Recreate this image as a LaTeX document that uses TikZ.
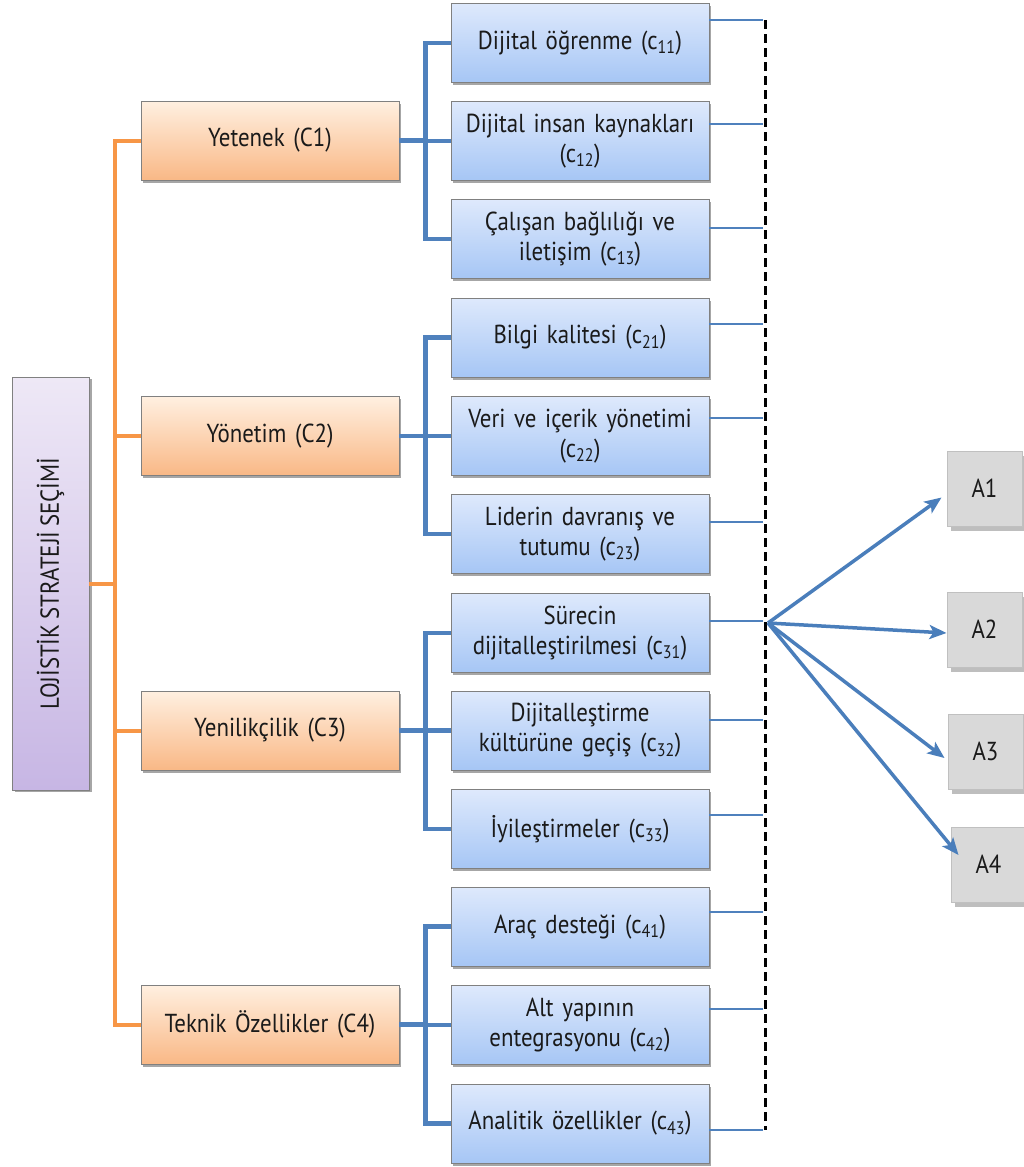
\documentclass[tikz,border=0pt]{standalone}
\usepackage{fontspec}
\setmainfont{PT Sans}[FakeStretch=0.88, WordSpace=0.8]
\usetikzlibrary{shadows,arrows.meta,calc}
\definecolor{txt}{HTML}{1A1A1A}
\definecolor{orln}{HTML}{F79646}
\definecolor{blln}{HTML}{4F81BD}
\definecolor{arln}{HTML}{4A7EBB}
\definecolor{bdr}{HTML}{808080}
\tikzset{
  lbl/.style={font=\fontsize{26}{30}\selectfont, text=txt, align=center},
  boxbase/.style={lbl, draw=bdr, line width=0.8pt, inner sep=0pt,
     minimum width=258pt, minimum height=79pt, text width=250pt,
     drop shadow={shadow xshift=1.5pt, shadow yshift=-2.5pt, fill=black, opacity=0.35}},
  obox/.style={boxbase, top color=orange!12!white, bottom color={rgb,255:red,249;green,184;blue,134}},
  bbox/.style={boxbase, top color={rgb,255:red,222;green,233;blue,252}, bottom color={rgb,255:red,166;green,198;blue,245}},
  pbox/.style={lbl, draw=bdr, line width=0.8pt, inner sep=0pt,
     minimum width=77pt, minimum height=413pt,
     bottom color={rgb,255:red,199;green,182;blue,228}, top color={rgb,255:red,238;green,232;blue,246},
     drop shadow={shadow xshift=2.5pt, shadow yshift=-2pt, fill=black, opacity=0.35}},
  abox/.style={lbl, draw={rgb,255:red,192;green,192;blue,192}, line width=1pt, fill={rgb,255:red,217;green,217;blue,217},
     minimum width=75pt, minimum height=75pt, inner sep=0pt,
     drop shadow={shadow xshift=4pt, shadow yshift=-5pt, fill={rgb,255:red,190;green,190;blue,190}, opacity=1}},
  orl/.style={draw=orln, line width=4pt},
  bll/.style={draw=blln, line width=4.5pt},
  thn/.style={draw=blln, line width=1.5pt},
  dsh/.style={draw=black, line width=3pt, dash pattern=on 9pt off 5pt},
  arr/.style={draw=arln, line width=3.5pt, -{Stealth[length=17pt, width=14pt, inset=4pt]}}
}
\begin{document}
\begin{tikzpicture}[x=1pt, y=-1pt]
\useasboundingbox (0,0) rectangle (1024,1167);

% purple root
\node[pbox] (p) at (50.5,583.5) {\rotatebox{90}{LOJİSTİK STRATEJİ SEÇİMİ}};

% orange criteria
\node[obox] (o1) at (270,140.5) {Yetenek (C1)};
\node[obox] (o2) at (270,436) {Yönetim (C2)};
\node[obox] (o3) at (270,730.5) {Yenilikçilik (C3)};
\node[obox] (o4) at (270,1024.5) {Teknik Özellikler (C4)};

% blue sub-criteria
\node[bbox] (b11) at (580,43) {Dijital öğrenme (c\textsubscript{11})};
\node[bbox] (b12) at (580,141) {Dijital insan kaynakları\\(c\textsubscript{12})};
\node[bbox] (b13) at (580,239) {Çalışan bağlılığı ve\\iletişim (c\textsubscript{13})};
\node[bbox] (b21) at (580,337.5) {Bilgi kalitesi (c\textsubscript{21})};
\node[bbox] (b22) at (580,436) {Veri ve içerik yönetimi\\(c\textsubscript{22})};
\node[bbox] (b23) at (580,534) {Liderin davranış ve\\tutumu (c\textsubscript{23})};
\node[bbox] (b31) at (580,633) {Sürecin\\dijitalleştirilmesi (c\textsubscript{31})};
\node[bbox] (b32) at (580,730.5) {Dijitalleştirme\\kültürüne geçiş (c\textsubscript{32})};
\node[bbox] (b33) at (580,829) {İyileştirmeler (c\textsubscript{33})};
\node[bbox] (b41) at (580,926.5) {Araç desteği (c\textsubscript{41})};
\node[bbox] (b42) at (580,1025) {Alt yapının\\entegrasyonu (c\textsubscript{42})};
\node[bbox] (b43) at (580,1123.5) {Analitik özellikler (c\textsubscript{43})};

% alternatives
\node[abox] (A1) at (984.5,488.5) {A1};
\node[abox] (A2) at (984.5,629.5) {A2};
\node[abox] (A3) at (985.5,751.5) {A3};
\node[abox] (A4) at (988.5,864.5) {A4};

% orange tree
\draw[orl] (o1.west) -- ++(-26,0) |- (o4.west);
\draw[orl] (o2.west) -- ++(-26,0);
\draw[orl] (o3.west) -- ++(-26,0);
\draw[orl] (p.east) -- ++(26,0);

% blue brackets
\foreach \g in {1,2,3,4}{
  \draw[bll] (o\g.east) -- ++(27,0);
  \draw[bll] (b\g1.west) -- ++(-25,0) |- (b\g3.west);
  \draw[bll] (b\g2.west) -- ++(-25,0);
}

% dashed collector
\coordinate (dtop) at (765,20);
\coordinate (dbot) at (765,1130);
\draw[dsh] (dtop) -- (dbot);

% thin links
\foreach \n/\yy in {b11/20,b12/124,b13/228,b21/324,b22/418,b23/522,b31/621,b32/720,b33/815,b41/912,b42/1009,b43/1130}{
  \coordinate (t\n) at (763,\yy);
  \draw[thn] (\n.east |- t\n) -- (t\n);
}

% arrows
\coordinate (hub) at (768,623);
\draw[arr] (hub) -- ($(A1.west)+(-5,9)$);
\draw[arr] (hub) -- ($(A2.west)+(0,3.5)$);
\draw[arr] (hub) -- ($(A3.west)+(-3,6.5)$);
\draw[arr] (hub) -- ($(A4.west)+(8,-9.5)$);
\end{tikzpicture}
\end{document}
